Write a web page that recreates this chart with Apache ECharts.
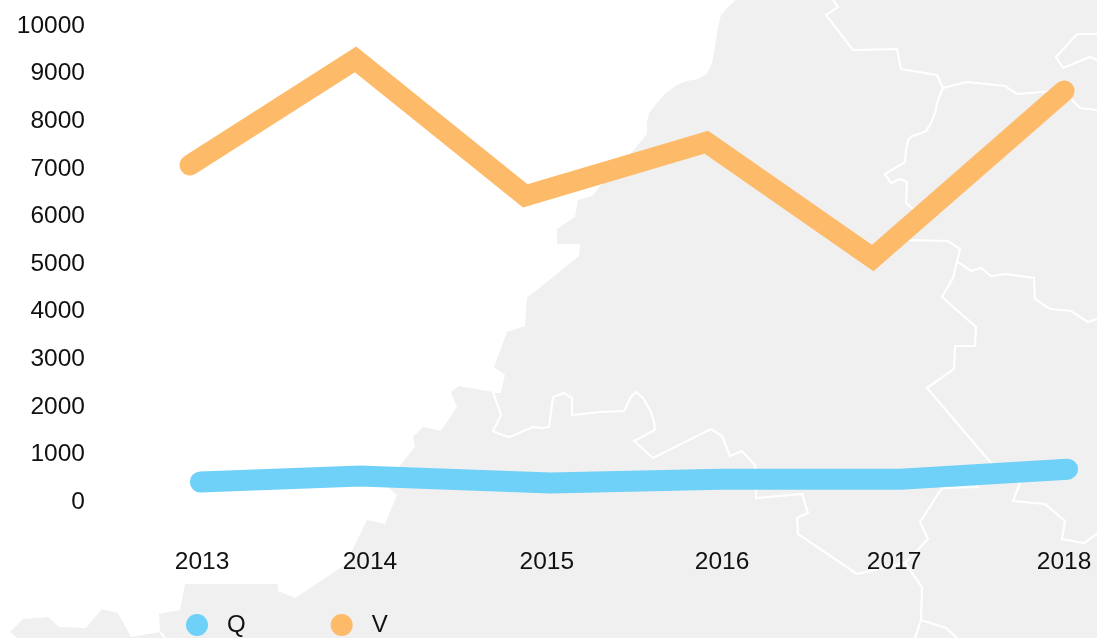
<!DOCTYPE html>
<html><head><meta charset="utf-8">
<style>html,body{margin:0;padding:0;background:#fff}#c{width:1097px;height:638px}</style>
<script src="https://cdn.jsdelivr.net/npm/echarts@6/dist/echarts.min.js"></script>
</head><body><div id="c"></div>
<script>
var yearTicks = [2013, 2013.974, 2015, 2016.016, 2017.014, 2018];
var yearLabels = ['2013', '2014', '2015', '2016', '2017', '2018'];
var qYears = [2012.99, 2013.917, 2015.02, 2016.006, 2017.05, 2018.02];
var qValues = [420, 545, 400, 480, 480, 690];
var vYears = [2012.93, 2013.89, 2014.875, 2015.925, 2016.89, 2018.0];
var vValues = [7080, 9300, 6430, 7560, 5125, 8635];

// decorative background map (screen coordinates)
var land = [[736,0],[728,7],[721,15],[718,27],[715,47],[712,63],[707,74],[698,79],[687,81],[677,85],[666,93],[656,104],[649,113],[647,123],[647,134],[631,153],[603,183],[592,196],[578,200],[575,217],[557,229],[557,244],[580,244],[579,256],[527,298],[525,326],[507,332],[494,367],[505,375],[501,392],[493,392],[459,386],[451,392],[457,407],[441,431],[423,427],[413,437],[415,447],[399,467],[389,488],[397,495],[385,524],[367,520],[345,565],[295,598],[278,591],[278,584],[185,584],[180,610],[159,614],[160,632],[131,637],[118,613],[102,609],[86,628],[59,627],[48,617],[23,619],[10,632],[17,638],[1097,638],[1097,0]];
var borders = [
 [[833,0],[838,7],[826,15],[853,50],[897,49],[901,69],[937,75],[943,88],[938,100],[935,113],[931,123],[926,131],[919,134],[912,136],[908,140],[906,150],[905,162],[885,174],[891,183],[900,179],[907,182],[906,203],[912,208],[925,220],[907,240],[948,241],[960,249],[953,278],[942,297],[976,327],[975,346],[955,346],[954,369],[927,388],[991,463],[1020,483],[1013,501],[1045,504],[1065,521],[1062,539],[1084,543],[1097,534]],
 [[943,88],[967,82],[1005,86],[1017,94],[1052,91],[1071,99],[1080,108],[1097,110]],
 [[1097,34],[1077,34],[1056,57],[1063,68],[1090,57],[1097,60]],
 [[958,262],[971,271],[981,268],[991,276],[1006,274],[1034,278],[1035,299],[1050,309],[1071,311],[1088,322],[1097,319]],
 [[501,392],[493,392],[501,415],[493,431],[502,435],[509,437],[517,434],[526,430],[533,427],[542,428],[549,427],[553,397],[564,393],[572,398],[572,415],[600,412],[624,411],[631,397],[636,392],[643,398],[650,410],[654,422],[655,430],[634,441],[653,458],[711,429],[722,436],[730,456],[742,451],[755,465],[756,498],[802,494],[808,513],[797,518],[798,534],[857,574],[905,563],[928,539],[920,522],[942,488],[979,487]],
 [[905,563],[922,587],[921,620],[946,628],[957,638]],
 [[921,620],[915,638]],
 [[160,632],[165,638]]
];

var bg = [{type:'polygon', z:-5, silent:true, shape:{points:land}, style:{fill:'#f0f0f0'}}];
borders.forEach(function(b){
  bg.push({type:'polyline', z:-4, silent:true, shape:{points:b}, style:{fill:null, stroke:'#fff', lineWidth:2.2}});
});

var font = '"Liberation Sans", Arial, sans-serif';
var chart = echarts.init(document.getElementById('c'), null, {renderer:'canvas'});
chart.setOption({
  animation:false,
  backgroundColor:'#fff',
  graphic:{elements:bg},
  grid:{left:90, right:0, top:26, height:476, containLabel:false},
  xAxis:{type:'value', min:2012.35, max:2018.191,
    axisLine:{show:false}, axisTick:{show:false}, splitLine:{show:false},
    axisLabel:{customValues:yearTicks, margin:48, fontSize:24.5, fontFamily:font, color:'#111',
      formatter:function(v){return yearLabels[yearTicks.indexOf(v)];}}},
  yAxis:{type:'value', min:0, max:10000, interval:1000,
    axisLine:{show:false}, axisTick:{show:false}, splitLine:{show:false},
    axisLabel:{margin:5, fontSize:24.5, fontFamily:font, color:'#111', padding:[6,0,0,0],
      formatter:function(v){return String(v);}}},
  legend:{left:181, top:608, icon:'circle', itemWidth:22, itemHeight:22, itemGap:85,
    textStyle:{fontSize:24, fontFamily:font, color:'#111', padding:[0,0,0,14]},
    data:['Q','V']},
  series:[
    {name:'Q', type:'line', symbol:'none', clip:false, z:3,
     lineStyle:{color:'#6fd0f8', width:21, cap:'round', join:'miter'}, itemStyle:{color:'#6fd0f8'},
     data:qYears.map(function(x,i){return [x,qValues[i]];})},
    {name:'V', type:'line', symbol:'none', clip:false, z:4,
     lineStyle:{color:'#fdba69', width:21, cap:'round', join:'miter'}, itemStyle:{color:'#fdba69'},
     data:vYears.map(function(x,i){return [x,vValues[i]];})}
  ]
});
</script></body></html>
